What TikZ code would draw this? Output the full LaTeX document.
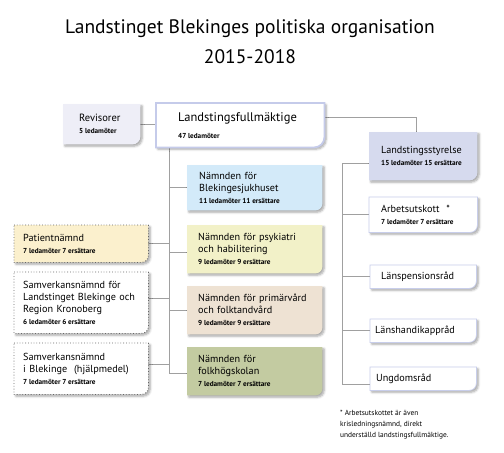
\documentclass[tikz,border=0pt]{standalone}
\usepackage{fontspec}
\setmainfont{PT Sans}
\usetikzlibrary{backgrounds,shadows.blur}
\definecolor{revf}{HTML}{EEEEF7}
\definecolor{lfd}{HTML}{C5CBEA}
\definecolor{blekf}{HTML}{D3EAF9}
\definecolor{psykf}{HTML}{F2F1C8}
\definecolor{primf}{HTML}{EEE2D3}
\definecolor{folkf}{HTML}{C3CBA1}
\definecolor{patf}{HTML}{FBF0CD}
\definecolor{lsf}{HTML}{D6DAEE}
\definecolor{rbd}{HTML}{C8CEEB}
\definecolor{lnc}{HTML}{A0A0A0}
\tikzset{
  bx/.style={anchor=north west, align=left, inner ysep=2pt, font=\fontsize{10.2}{12}\selectfont},
  shd/.style={blur shadow={shadow xshift=1.8pt,shadow yshift=-1.8pt,shadow blur radius=2.2pt,shadow blur steps=6,shadow opacity=35}},
  ln/.style={draw=lnc, line width=0.7pt},
  dotbox/.style={shd, fill=white, draw=gray!80!black, dotted, line width=0.8pt},
  rbox/.style={shd, fill=white, draw=rbd, line width=0.8pt},
}
\newcommand\sm{\fontsize{7.2}{7}\selectfont\bfseries\spaceskip=0.24em plus 0.05em\relax}
\newcommand\shp[3][7]{\path[#3] (#2.north west) -- (#2.north east) -- ([yshift=#1pt]#2.south east) arc[start angle=0,end angle=-90,radius=#1pt] -- (#2.south west) -- cycle;}
\begin{document}
\begin{tikzpicture}[x=1pt,y=-1pt]
\useasboundingbox (0,0) rectangle (504,453);
\node[font=\fontsize{19.5}{30}\selectfont, align=center] (title) at (250,42) {Landstinget Blekinges politiska organisation\\2015-2018};

\node[bx, minimum width=77pt, minimum height=40pt, inner xsep=16pt, text width=45pt, font=\fontsize{10.5}{12}\selectfont] (rev) at (63,104) {Revisorer\\{\sm 5 ledamöter}};
\node[bx, minimum width=168pt, minimum height=44pt, inner xsep=22pt, text width=124pt, font=\fontsize{12.5}{17}\selectfont] (lf) at (156,103) {Landstingsfullmäktige\\{\sm 47 ledamöter}};

\node[bx, minimum width=135pt, minimum height=45pt, inner xsep=12pt, text width=111pt] (blek) at (187,165) {Nämnden för\\Blekingesjukhuset\\{\sm 11 ledamöter 11 ersättare}};
\node[bx, minimum width=135pt, minimum height=48pt, inner xsep=11pt, text width=113pt] (psyk) at (187,225) {Nämnden för psykiatri\\och habilitering\\{\sm 9 ledamöter 9 ersättare}};
\node[bx, minimum width=135pt, minimum height=48pt, inner xsep=11pt, text width=113pt] (prim) at (187,286) {Nämnden för primärvård\\och folktandvård\\{\sm 9 ledamöter 9 ersättare}};
\node[bx, minimum width=135pt, minimum height=48pt, inner xsep=11pt, text width=113pt] (folk) at (187,347) {Nämnden för\\folkhögskolan\\{\sm 7 ledamöter 7 ersättare}};

\node[bx, minimum width=134pt, minimum height=37pt, inner xsep=9pt, text width=116pt] (pat) at (14,225) {Patientnämnd\\{\sm 7 ledamöter 7 ersättare}};
\node[bx, minimum width=134pt, minimum height=61pt, inner xsep=9pt, text width=116pt] (sv1) at (14,272) {Samverkansnämnd för\\Landstinget Blekinge och\\Region Kronoberg\\{\sm 6 ledamöter 6 ersättare}};
\node[bx, minimum width=134pt, minimum height=51pt, inner xsep=9pt, text width=116pt] (sv2) at (14,343) {Samverkansnämnd\\i Blekinge\ \ (hjälpmedel)\\{\sm 7 ledamöter 7 ersättare}};

\node[bx, minimum width=108pt, minimum height=48pt, inner xsep=12pt, text width=84pt] (ls) at (369,132) {Landstingsstyrelse\\{\sm 15 ledamöter 15 ersättare}};
\node[bx, minimum width=108pt, minimum height=35pt, inner xsep=12pt, text width=84pt] (au) at (369,197) {Arbetsutskott\ \ *\\{\sm 7 ledamöter 7 ersättare}};
\node[bx, minimum width=106pt, minimum height=23pt, inner xsep=11pt, text width=84pt] (lp) at (370,265) {Länspensionsråd};
\node[bx, minimum width=106pt, minimum height=23pt, inner xsep=5pt, text width=96pt] (lh) at (370,319) {Länshandikappråd};
\node[bx, minimum width=106pt, minimum height=23pt, inner xsep=6pt, text width=94pt] (ur) at (370,367) {Ungdomsråd};

\node[anchor=north west, align=left, inner sep=0pt, font=\fontsize{7.4}{11}\selectfont] (note) at (340,410) {* Arbetsutskottet är även\\krisledningsnämnd, direkt\\underställd landstingsfullmäktige.};

\begin{pgfonlayer}{background}
  % connectors
  \coordinate (tt) at ([xshift=13pt]lf.south west);
  \coordinate (tb) at (169,373);
  \draw[ln] (tt) -- (tb);
  \draw[ln] (rev.east) -- (rev.east -| lf.west);
  \draw[ln] ([yshift=8pt]lf.east) -| ([xshift=-7pt]ls.north);
  \draw[ln] (blek.west -| tt) -- (blek.west);
  \draw[ln] ([yshift=-3pt]psyk.west -| tt) -- ([yshift=-3pt]psyk.west);
  \draw[ln] (prim.west -| tt) -- (prim.west);
  \draw[ln] (tb) -- (tb -| folk.west);
  \draw[ln] (pat.east) -- (pat.east -| tt);
  \draw[ln] ([yshift=4pt]sv1.east) -- ([yshift=4pt]sv1.east -| tt);
  \draw[ln] ([yshift=4pt]sv2.east) -- ([yshift=4pt]sv2.east -| tt);
  \coordinate (rt) at (342,163);
  \coordinate (rb) at (342,384);
  \draw[ln] (rt) -- (rb);
  \draw[ln] (rt) -- (rt -| ls.west);
  \draw[ln] (au.west -| rt) -- (au.west);
  \draw[ln] (lp.west -| rt) -- (lp.west);
  \draw[ln] (lh.west -| rt) -- (lh.west);
  \draw[ln] (rb) -- (rb -| ur.west);
  % boxes
  \shp[8]{rev}{shd, fill=revf}
  \shp[10]{lf}{shd, fill=white, draw=lfd, line width=1.8pt}
  \shp{blek}{shd, fill=blekf}
  \shp{psyk}{shd, fill=psykf}
  \shp{prim}{shd, fill=primf}
  \shp{folk}{shd, fill=folkf}
  \shp{pat}{dotbox, fill=patf}
  \shp{sv1}{dotbox}
  \shp{sv2}{dotbox}
  \shp[8]{ls}{shd, fill=lsf}
  \shp{au}{rbox}
  \shp{lp}{rbox}
  \shp{lh}{rbox}
  \shp{ur}{rbox}
\end{pgfonlayer}
\end{tikzpicture}
\end{document}
